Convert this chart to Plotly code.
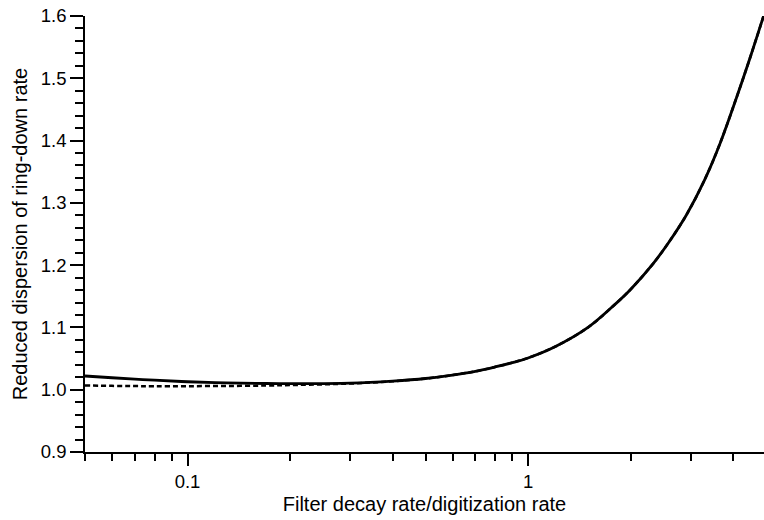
import numpy as np
import plotly.graph_objects as go

x_vals = [0.05, 0.06, 0.07, 0.08, 0.1, 0.13, 0.17, 0.21, 0.3, 0.4, 0.5, 0.6, 0.7, 0.8,
          0.9, 1.0, 1.2, 1.5, 1.8, 2.0, 2.33, 2.6, 2.92, 3.3, 3.66, 4.1, 4.5, 4.93]
solid_vals = [1.022, 1.0192, 1.0170, 1.0153, 1.0128, 1.0110, 1.0100, 1.0097, 1.0105, 1.0138,
              1.0180, 1.0235, 1.0295, 1.0365, 1.0435, 1.051, 1.069, 1.100, 1.137, 1.161,
              1.2025, 1.238, 1.281, 1.337, 1.395, 1.470, 1.535, 1.602]
dashed_vals = [1.0068, 1.0062, 1.0058, 1.0057, 1.0057, 1.0060, 1.0067, 1.0077, 1.0099, 1.0136,
               1.0180, 1.0235, 1.0295, 1.0365, 1.0435, 1.051, 1.069, 1.100, 1.137, 1.161,
               1.2025, 1.238, 1.281, 1.337, 1.395, 1.470, 1.535, 1.602]

x_major = [0.1, 1]
x_major_text = ["0.1", "1"]
x_minor = [0.05, 0.06, 0.07, 0.08, 0.09, 0.2, 0.3, 0.4, 0.5, 0.6, 0.7, 0.8, 0.9, 2, 3, 4]
y_major = [0.9, 1.0, 1.1, 1.2, 1.3, 1.4, 1.5, 1.6]

fig = go.Figure()
fig.add_trace(go.Scatter(x=x_vals, y=dashed_vals, mode="lines",
                         line=dict(color="black", width=2.5, dash="5px,3px", shape="spline"),
                         showlegend=False))
fig.add_trace(go.Scatter(x=x_vals, y=solid_vals, mode="lines",
                         line=dict(color="black", width=2.8, shape="spline"),
                         showlegend=False))

font_family = "Liberation Sans, Arial, Helvetica, sans-serif"
fig.update_layout(
    width=764, height=520,
    margin=dict(l=85, r=0, t=16, b=68),
    paper_bgcolor="white", plot_bgcolor="white",
    font=dict(family=font_family, size=18.5, color="black"),
    xaxis=dict(
        type="log", range=[np.log10(0.05), np.log10(4.93)],
        tickvals=x_major, ticktext=x_major_text,
        ticks="outside", ticklen=12, tickwidth=1.5, tickcolor="black",
        minor=dict(tickvals=x_minor, ticks="outside", ticklen=7, tickwidth=1.5, tickcolor="black"),
        showline=True, linecolor="black", linewidth=1.5,
        showgrid=False, zeroline=False, automargin=False,
        title=dict(text="Filter decay rate/digitization rate", font=dict(size=20), standoff=6),
        tickfont=dict(size=18.5),
    ),
    yaxis=dict(
        range=[0.9, 1.6],
        tickvals=y_major, tickformat=".1f",
        ticks="outside", ticklen=13, tickwidth=1.5, tickcolor="black",
        minor=dict(dtick=0.02, ticks="outside", ticklen=8, tickwidth=1.5, tickcolor="black"),
        showline=True, linecolor="black", linewidth=1.5,
        showgrid=False, zeroline=False, automargin=False,
        title=dict(text="Reduced dispersion of ring-down rate", font=dict(size=20), standoff=8),
        tickfont=dict(size=18.5),
    ),
)

fig.write_html("out.html", config={"displayModeBar": False},
               post_script="document.body.style.margin='0';document.body.style.overflow='hidden';")
